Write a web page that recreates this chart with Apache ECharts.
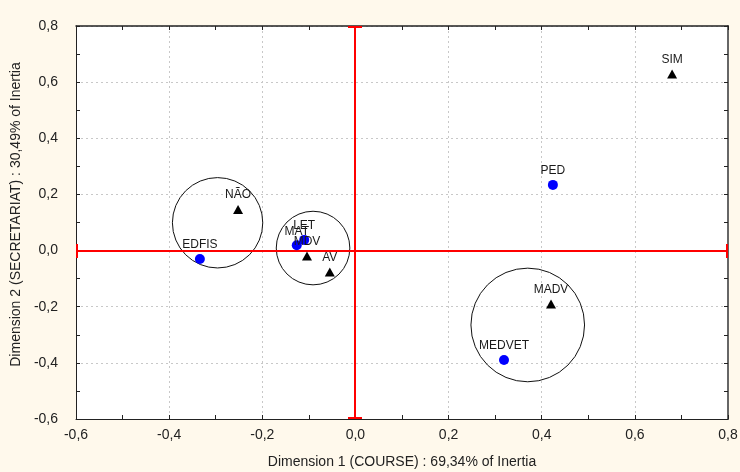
<!DOCTYPE html>
<html>
<head>
<meta charset="utf-8">
<script src="https://cdn.jsdelivr.net/npm/echarts@6/dist/echarts.min.js"></script>
<style>
html,body{margin:0;padding:0;background:#FFF9EC;}
#c{width:740px;height:472px;}
</style>
</head>
<body>
<div id="c"></div>
<script>
// Column points (COURSE) - blue circles
const courseNames = ['PED', 'MEDVET', 'EDFIS', 'LET', 'MAT'];
const courseX = [0.424, 0.319, -0.334, -0.110, -0.126];
const courseY = [0.234, -0.390, -0.030, 0.038, 0.019];

// Row points (SECRETARIAT) - black triangles
const secNames = ['SIM', 'MADV', 'NÃO', 'MDV', 'AV'];
const secX = [0.680, 0.420, -0.252, -0.104, -0.055];
const secY = [0.629, -0.190, 0.146, -0.019, -0.076];

// Cluster circles: centre x, centre y, radius (dimension-1 units)
const clusterX = [-0.296, -0.091, 0.370];
const clusterY = [0.099, 0.009, -0.265];
const clusterR = [0.097, 0.079, 0.122];

const xTicks = [-0.6, 0.8, 0.2];
const yTicks = [-0.6, 0.8, 0.2];

const xTitle = 'Dimension 1 (COURSE) : 69,34% of Inertia';
const yTitle = 'Dimension 2 (SECRETARIAT) : 30,49% of Inertia';

const FONT = 'Liberation Sans, Arial, sans-serif';
const fmt = v => v.toFixed(1).replace('.', ',');

const chart = echarts.init(document.getElementById('c'));

const tickStyle = {show: true, inside: true, length: 4, lineStyle: {color: '#222'}};
const minorStyle = {show: true, splitNumber: 2, length: 4, lineStyle: {color: '#222'}};

const option = {
  backgroundColor: '#FFF9EC',
  animation: false,
  grid: {left: 76, top: 26, right: 12, bottom: 53, show: true, backgroundColor: '#ffffff',
    borderWidth: 0, containLabel: false, outerBoundsMode: 'none'},
  xAxis: [{
    type: 'value', min: xTicks[0], max: xTicks[1], interval: xTicks[2],
    position: 'bottom',
    axisLine: {show: true, onZero: false, lineStyle: {color: '#222', width: 1}},
    axisTick: tickStyle, minorTick: minorStyle,
    axisLabel: {formatter: fmt, color: '#222', fontFamily: FONT, fontSize: 14, margin: 9},
    splitLine: {show: true, lineStyle: {color: '#c8c8c8', type: [2, 3], width: 1}},
    name: xTitle, nameLocation: 'middle', nameGap: 36,
    nameTextStyle: {color: '#222', fontFamily: FONT, fontSize: 14}
  }, {
    type: 'value', min: xTicks[0], max: xTicks[1], interval: xTicks[2],
    position: 'top',
    axisLine: {show: true, onZero: false, lineStyle: {color: '#222', width: 1.5}},
    axisTick: tickStyle, minorTick: minorStyle,
    axisLabel: {show: false}, splitLine: {show: false}
  }],
  yAxis: [{
    type: 'value', min: yTicks[0], max: yTicks[1], interval: yTicks[2],
    position: 'left',
    axisLine: {show: true, onZero: false, lineStyle: {color: '#222', width: 1}},
    axisTick: tickStyle, minorTick: minorStyle,
    axisLabel: {formatter: fmt, color: '#222', fontFamily: FONT, fontSize: 14, margin: 18},
    splitLine: {show: true, lineStyle: {color: '#c8c8c8', type: [2, 3], width: 1}},
    name: yTitle, nameLocation: 'middle', nameGap: 38,
    nameTextStyle: {color: '#222', fontFamily: FONT, fontSize: 14, padding: [0, 0, 0, 16]}
  }, {
    type: 'value', min: yTicks[0], max: yTicks[1], interval: yTicks[2],
    position: 'right',
    axisLine: {show: true, onZero: false, lineStyle: {color: '#666', width: 2}},
    axisTick: tickStyle, minorTick: minorStyle,
    axisLabel: {show: false}, splitLine: {show: false}
  }],
  series: [
    {
      type: 'custom', z: 3, silent: true, clip: false,
      data: clusterX.map((x, i) => [x, clusterY[i], clusterR[i]]),
      renderItem: function (params, api) {
        const c = api.coord([api.value(0), api.value(1)]);
        const r = api.size([api.value(2), 0])[0];
        return {type: 'circle', shape: {cx: c[0], cy: c[1], r: r},
          style: {fill: 'none', stroke: '#111', lineWidth: 1}};
      }
    },
    {
      type: 'custom', z: 4, silent: true, clip: false,
      data: [[0, 0]],
      renderItem: function (params, api) {
        const cs = params.coordSys;
        const o = api.coord([0, 0]);
        const x0 = Math.round(o[0]), y0 = Math.round(o[1]);
        const top = cs.y, bot = cs.y + cs.height, lft = cs.x, rgt = cs.x + cs.width;
        const cap = 7;
        const st = {stroke: '#FF0000', lineWidth: 2};
        const L = (a, b, c, d) => ({type: 'line', shape: {x1: a, y1: b, x2: c, y2: d}, style: st});
        return {type: 'group', children: [
          L(x0, top, x0, bot),
          L(x0 - cap, top + 1, x0 + cap, top + 1),
          L(x0 - cap, bot - 1, x0 + cap, bot - 1),
          L(lft, y0, rgt, y0),
          L(lft + 1, y0 - cap, lft + 1, y0 + cap),
          L(rgt - 1, y0 - cap, rgt - 1, y0 + cap)
        ]};
      }
    },
    {
      type: 'scatter', z: 5, symbol: 'circle', symbolSize: 10,
      itemStyle: {color: '#0000FF', opacity: 1},
      data: courseX.map((x, i) => ({value: [x, courseY[i]], name: courseNames[i]})),
      label: {show: true, position: 'top', distance: 3, formatter: '{b}',
        color: '#1a1a1a', fontFamily: FONT, fontSize: 12}
    },
    {
      type: 'scatter', z: 5, symbol: 'triangle', symbolSize: [10, 9],
      itemStyle: {color: '#000000', opacity: 1},
      data: secX.map((x, i) => ({value: [x, secY[i]], name: secNames[i]})),
      label: {show: true, position: 'top', distance: 4, formatter: '{b}',
        color: '#1a1a1a', fontFamily: FONT, fontSize: 12}
    }
  ]
};
chart.setOption(option);
</script>
</body>
</html>
